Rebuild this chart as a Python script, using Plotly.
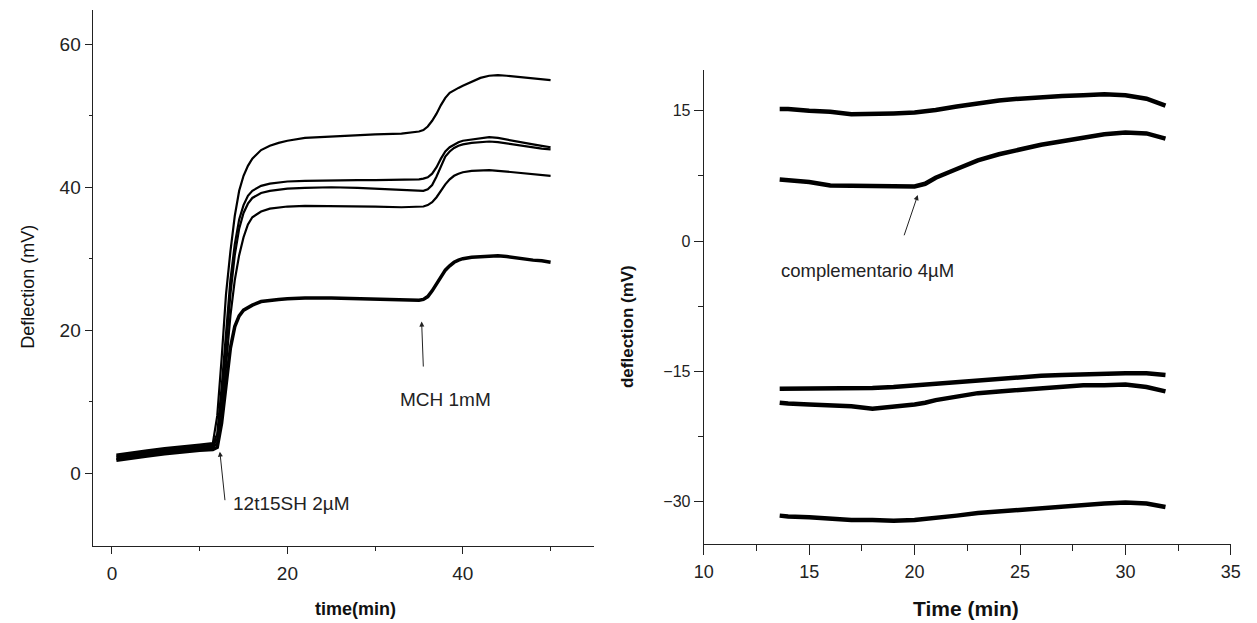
import plotly.graph_objects as go

# ---------------- Left panel data (time in min, deflection in mV) ----------------
left_time = [0.5, 2, 4, 6, 8, 10, 11.5,
             12, 12.5, 13, 13.5, 14, 14.5, 15, 15.5, 16,
             17, 18, 19, 20, 22, 25, 28, 30, 33,
             35, 35.5, 36, 36.5, 37, 37.5, 38, 38.5, 39, 39.5, 40,
             41, 42, 43, 44, 45, 46, 47, 48, 49, 50]

curve_a = [2.6, 2.9, 3.2, 3.5, 3.8, 4.0, 4.2,
           8, 16, 25, 31, 36, 39.5, 41.6, 43, 44,
           45.2, 45.8, 46.2, 46.5, 46.9, 47.1, 47.3, 47.4, 47.5,
           47.8, 48.0, 48.5, 49.3, 50.3, 51.5, 52.5, 53.2, 53.6, 53.9, 54.2,
           54.8, 55.3, 55.6, 55.7, 55.6, 55.5, 55.4, 55.3, 55.1, 55.0]
curve_b = [2.4, 2.7, 3.0, 3.3, 3.6, 3.8, 4.0,
           5.5, 12, 20, 27, 32, 35.5, 37.5, 38.8, 39.5,
           40.2, 40.5, 40.7, 40.8, 40.9, 41.0, 41.0, 41.0, 41.0,
           41.1, 41.2, 41.4, 41.9, 42.8, 44.0, 45.0, 45.6, 46.0, 46.3, 46.5,
           46.7, 46.9, 47.0, 46.9, 46.7, 46.4, 46.2, 46.0, 45.8, 45.6]
curve_c = [2.2, 2.5, 2.8, 3.1, 3.4, 3.6, 3.8,
           4.8, 10, 18, 25, 30.5, 34.2, 36.4, 37.7, 38.5,
           39.2, 39.5, 39.7, 39.8, 39.9, 40.0, 39.9, 39.8, 39.7,
           39.5, 39.5, 39.7, 40.3, 41.5, 43.0, 44.3, 45.0, 45.5, 45.8, 46.0,
           46.2, 46.3, 46.4, 46.3, 46.1, 45.9, 45.7, 45.5, 45.4, 45.3]
curve_d = [2.0, 2.3, 2.6, 2.9, 3.2, 3.4, 3.6,
           4.2, 8, 15, 22, 27, 30.5, 33, 34.8, 35.8,
           36.6, 37.0, 37.2, 37.3, 37.4, 37.4, 37.3, 37.3, 37.2,
           37.2, 37.3, 37.5, 37.9, 38.6, 39.5, 40.4, 41.1, 41.6, 41.9, 42.1,
           42.3, 42.4, 42.4, 42.3, 42.2, 42.0, 41.9, 41.8, 41.7, 41.6]
curve_e = [1.8, 2.1, 2.4, 2.7, 3.0, 3.2, 3.3,
           3.6, 7, 12.5, 17.5, 20.5, 22, 22.8, 23.2, 23.5,
           24.0, 24.2, 24.3, 24.4, 24.5, 24.5, 24.4, 24.4, 24.3,
           24.2, 24.3, 24.7, 25.5, 26.5, 27.5, 28.4, 29.0, 29.5, 29.8, 30.0,
           30.2, 30.3, 30.4, 30.4, 30.3, 30.1, 29.9, 29.8, 29.7, 29.5]
left_curves = [curve_a, curve_b, curve_c, curve_d, curve_e]
left_widths = [2.2, 2.2, 2.2, 2.2, 3.5]

# ---------------- Right panel data ----------------
right_time = [13.6, 14, 15, 16, 17, 18, 19, 20, 20.5, 21, 22, 23, 24, 25, 26,
              27, 28, 29, 30, 31, 31.9]
r1 = [15.2, 15.2, 15.0, 14.9, 14.6, 14.6, 14.7, 14.8, 14.9, 15.1, 15.5, 15.9,
      16.2, 16.4, 16.6, 16.7, 16.8, 16.9, 16.8, 16.4, 15.6]
r2 = [7.1, 7.0, 6.8, 6.4, 6.4, 6.3, 6.3, 6.3, 6.6, 7.3, 8.3, 9.3, 10.0, 10.6,
      11.1, 11.5, 11.9, 12.3, 12.5, 12.4, 11.8]
r3 = [-17.0, -17.0, -17.0, -17.0, -17.0, -16.9, -16.8, -16.6, -16.5, -16.4,
      -16.2, -16.0, -15.8, -15.7, -15.5, -15.4, -15.3, -15.2, -15.2, -15.2, -15.4]
r4 = [-18.6, -18.7, -18.8, -18.9, -19.0, -19.3, -19.1, -18.8, -18.6, -18.3,
      -17.9, -17.5, -17.3, -17.1, -16.9, -16.8, -16.6, -16.6, -16.5, -16.8, -17.3]
r5 = [-31.6, -31.7, -31.8, -32.0, -32.1, -32.1, -32.2, -32.1, -32.0, -31.9,
      -31.6, -31.3, -31.1, -30.9, -30.7, -30.5, -30.3, -30.2, -30.1, -30.2, -30.6]
right_curves = [r1, r2, r3, r4, r5]

# tick values
left_xticks = [0, 20, 40]
left_yticks = [0, 20, 40, 60]
right_xticks = [10, 15, 20, 25, 30, 35]
right_yticks = [-30, -15, 0, 15]

W, H = 1257, 623
fig = go.Figure()

for ys, w in zip(left_curves, left_widths):
    fig.add_trace(go.Scatter(x=left_time, y=ys, mode="lines",
                             line=dict(color="black", width=w),
                             xaxis="x", yaxis="y", showlegend=False))
for ys in right_curves:
    fig.add_trace(go.Scatter(x=right_time, y=ys, mode="lines",
                             line=dict(color="black", width=4.5),
                             xaxis="x2", yaxis="y2", showlegend=False))

font_a = "Arial, Liberation Sans, sans-serif"
tick_font_l = dict(family=font_a, size=19, color="#222")
tick_font_r = dict(family=font_a, size=16, color="#222")
tick_font_rx = dict(family=font_a, size=18, color="#222")

common = dict(showline=True, linecolor="#222", linewidth=1.3, showgrid=False,
              zeroline=False, ticks="outside", tickcolor="#222", tickwidth=1.2)

fig.update_layout(
    width=W, height=H, autosize=False,
    margin=dict(l=0, r=0, t=0, b=0),
    paper_bgcolor="white", plot_bgcolor="white",
    xaxis=dict(domain=[84 / W, 593 / W], range=[-2.2, 54.9], anchor="y",
               tickvals=left_xticks, ticklen=7, tickfont=tick_font_l,
               ticklabelstandoff=3,
               minor=dict(tickvals=[10, 30, 50], ticklen=4, ticks="outside",
                          tickcolor="#222", showgrid=False),
               **common),
    yaxis=dict(domain=[1 - 546 / H, 1 - 10 / H], range=[-10.2, 64.8], anchor="x",
               tickvals=left_yticks, ticklen=7, tickfont=tick_font_l,
               minor=dict(tickvals=[10, 30, 50], ticklen=3, ticks="outside",
                          tickcolor="#222", showgrid=False),
               **common),
    xaxis2=dict(domain=[705 / W, 1241 / W], range=[10, 35.02], anchor="y2",
                tickvals=right_xticks, ticklen=10, tickfont=tick_font_rx,
                ticklabelstandoff=1,
                minor=dict(tickvals=[12.5, 17.5, 22.5, 27.5, 32.5], ticklen=6,
                           ticks="outside", tickcolor="#222", showgrid=False),
                **common),
    yaxis2=dict(domain=[1 - 544.3 / H, 1 - 70 / H], range=[-34.9, 19.7], anchor="x2",
                tickvals=right_yticks, ticklen=9, tickfont=tick_font_r,
                minor=dict(tickvals=[-22.5, -7.5, 7.5], ticklen=5, ticks="outside",
                           tickcolor="#222", showgrid=False),
                **common),
)

centered = dict(xanchor="center", yanchor="middle", showarrow=False)
annots = [
    # axis titles
    dict(text="Deflection (mV)", x=18 / W, y=1 - 287 / H, xref="paper", yref="paper",
         textangle=-90, font=dict(family=font_a, size=18, color="#111"), **centered),
    dict(text="<b>time(min)</b>", x=351 / W, y=1 - 609 / H, xref="paper", yref="paper",
         font=dict(family=font_a, size=18, color="#111"), **centered),
    dict(text="<b>deflection (mV)</b>", x=627 / W, y=1 - 327 / H, xref="paper", yref="paper",
         textangle=-90, font=dict(family=font_a, size=17, color="#111"), **centered),
    dict(text="<b>Time (min)</b>", x=971 / W, y=1 - 608 / H, xref="paper", yref="paper",
         font=dict(family=font_a, size=21, color="#111"), **centered),
    # left panel labels
    dict(text="12t15SH 2µM", x=13.6, y=-4.3, xref="x", yref="y", xanchor="left",
         yanchor="middle", showarrow=False,
         font=dict(family=font_a, size=19, color="#222")),
    dict(text="MCH 1mM", x=38.0, y=10.25, xref="x", yref="y",
         font=dict(family=font_a, size=19, color="#222"), **centered),
    dict(text="", x=12.3, y=3.0, ax=12.9, ay=-4.0, xref="x", yref="y",
         axref="x", ayref="y", showarrow=True, arrowhead=2, arrowsize=1,
         arrowwidth=1, arrowcolor="#222"),
    dict(text="", x=35.3, y=21.2, ax=35.5, ay=14.7, xref="x", yref="y",
         axref="x", ayref="y", showarrow=True, arrowhead=2, arrowsize=1,
         arrowwidth=1, arrowcolor="#222"),
    # right panel label
    dict(text="complementario 4µM", x=17.77, y=-3.34, xref="x2", yref="y2",
         font=dict(family=font_a, size=18.5, color="#222"), **centered),
    dict(text="", x=20.15, y=5.3, ax=19.48, ay=0.5, xref="x2", yref="y2",
         axref="x2", ayref="y2", showarrow=True, arrowhead=2, arrowsize=1,
         arrowwidth=1, arrowcolor="#222"),
]
fig.update_layout(annotations=annots)

fig.write_html("out.html")
